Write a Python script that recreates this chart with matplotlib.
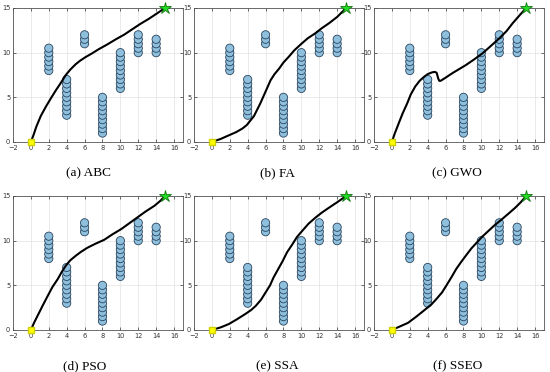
import matplotlib
matplotlib.use("Agg")
import matplotlib.pyplot as plt
from matplotlib.patches import Circle

# obstacle columns: x position and circle centre heights
obs_x = [2, 4, 6, 8, 10, 12, 14]
obs_y = [
    [8.0, 8.5, 9.0, 9.5, 10.0, 10.5],
    [3.0, 3.5, 4.0, 4.5, 5.0, 5.5, 6.0, 6.5, 7.0],
    [11.0, 11.5, 12.0],
    [1.0, 1.5, 2.0, 2.5, 3.0, 3.5, 4.0, 4.5, 5.0],
    [6.0, 6.5, 7.0, 7.5, 8.0, 8.5, 9.0, 9.5, 10.0],
    [10.0, 10.5, 11.0, 11.5, 12.0],
    [10.0, 10.5, 11.0, 11.5],
]
start = (0, 0)
goal = (15, 15)

captions = ["(a) ABC", "(b) FA", "(c) GWO", "(d) PSO", "(e) SSA", "(f) SSEO"]

abc_x = [0, 0.3, 0.6, 1.1, 1.7, 2.3, 2.8, 3.4, 3.9, 4.4, 5.0, 5.5, 6.1, 6.8, 7.6, 8.5, 9.5, 10.4, 11.3, 12.2, 13.2, 14.1, 15]
abc_y = [0, 0.8, 1.7, 2.9, 4.0, 5.0, 5.8, 6.7, 7.5, 8.1, 8.7, 9.1, 9.5, 9.9, 10.4, 10.9, 11.5, 12.0, 12.6, 13.2, 13.8, 14.4, 15]

fa_x = [0, 1.0, 1.9, 2.7, 3.4, 3.9, 4.3, 4.7, 5.05, 5.4, 5.8, 6.2, 6.55, 7.0, 7.5, 8.0, 8.6, 9.2, 9.9, 10.7, 11.6, 12.3, 13.1, 14.0, 15]
fa_y = [0, 0.35, 0.75, 1.1, 1.5, 1.9, 2.4, 2.9, 3.6, 4.3, 5.2, 6.1, 6.9, 7.6, 8.2, 8.9, 9.55, 10.25, 10.9, 11.6, 12.2, 12.75, 13.3, 14.0, 15]

gwo_x = [0, 0.3, 0.75, 1.2, 1.7, 2.1, 2.6, 3.1, 3.6, 4.0, 4.5, 4.8, 5.0, 5.1, 5.2, 5.3, 5.45, 6.0, 6.75, 7.5, 8.25, 9.2, 10.1, 11.0, 12.0, 12.8, 13.5, 14.2, 15]
gwo_y = [0, 0.9, 2.06, 3.2, 4.3, 5.3, 6.2, 6.85, 7.3, 7.6, 7.8, 7.85, 7.75, 7.4, 7.05, 6.85, 6.85, 7.2, 7.7, 8.15, 8.6, 9.25, 9.9, 10.7, 11.6, 12.4, 13.3, 14.1, 15]

pso_x = [0, 0.35, 0.75, 1.3, 1.87, 2.4, 3.0, 3.45, 3.9, 4.4, 5.0, 5.6, 6.3, 7.2, 8.2, 9.1, 10.1, 11.0, 11.9, 12.8, 13.8, 14.4, 15]
pso_y = [0, 0.8, 1.6, 2.7, 3.8, 4.8, 5.7, 6.5, 7.2, 7.8, 8.3, 8.75, 9.2, 9.65, 10.1, 10.7, 11.3, 11.95, 12.6, 13.25, 13.9, 14.4, 15]

ssa_x = [0, 1.0, 1.9, 2.8, 3.75, 4.4, 4.9, 5.5, 6.0, 6.5, 6.9, 7.4, 7.9, 8.4, 9.0, 9.5, 10.1, 10.8, 11.6, 12.3, 13.1, 14.0, 15]
ssa_y = [0, 0.3, 0.67, 1.2, 1.8, 2.25, 2.7, 3.4, 4.2, 5.0, 5.9, 6.8, 7.7, 8.7, 9.6, 10.4, 11.1, 11.9, 12.6, 13.15, 13.7, 14.3, 15]

sseo_x = [0, 0.9, 1.8, 2.8, 3.85, 4.45, 5.0, 5.6, 6.1, 6.65, 7.2, 7.8, 8.4, 8.9, 9.5, 10.1, 10.8, 11.5, 12.3, 13.0, 13.8, 14.4, 15]
sseo_y = [0, 0.4, 0.8, 1.55, 2.4, 2.9, 3.5, 4.2, 5.0, 5.9, 6.85, 7.7, 8.5, 9.15, 9.8, 10.45, 11.1, 11.75, 12.4, 13.0, 13.7, 14.3, 15]

paths = [(abc_x, abc_y), (fa_x, fa_y), (gwo_x, gwo_y),
         (pso_x, pso_y), (ssa_x, ssa_y), (sseo_x, sseo_y)]

fig = plt.figure(figsize=(5.5, 3.72), dpi=100)

lefts = [13 / 550, 194 / 550, 374 / 550]
bottoms = [230 / 372, 42 / 372]
w, h = 170 / 550, 134 / 372
cap_x = [[88, 277, 457], [85, 277, 458]]
cap_y = [173, 366]

for i, (px, py) in enumerate(paths):
    r, c = divmod(i, 3)
    ax = fig.add_axes([lefts[c], bottoms[r], w, h])
    for ox, ys in zip(obs_x, obs_y):
        for oy in ys:
            ax.add_patch(Circle((ox, oy), 0.46, facecolor="#8ec0dd",
                                edgecolor="#2a445e", linewidth=0.6, zorder=2))
    ax.plot(px, py, color="black", linewidth=1.5, zorder=3)
    ax.plot(*start, marker="s", color="#ffff00", markeredgecolor="#d0d000",
            markersize=5, zorder=4, clip_on=False)
    ax.plot(*goal, marker="*", color="#22dd22", markeredgecolor="#117711",
            markersize=9, markeredgewidth=0.6, zorder=4, clip_on=False)
    ax.set_xlim(-2, 17)
    ax.set_ylim(0, 15)
    ax.set_xticks(range(-2, 17, 2))
    ax.set_yticks([0, 5, 10, 15])
    ax.grid(True, color="#e6e6e6", linewidth=0.6)
    ax.set_axisbelow(True)
    ax.tick_params(direction="in", length=2, width=0.5, labelsize=4.8,
                   colors="#333333", pad=2, top=True, right=True)
    for s in ax.spines.values():
        s.set_color("#555555")
        s.set_linewidth(0.6)
    fig.text(cap_x[r][c] / 550, 1 - cap_y[r] / 372, captions[i],
             ha="center", va="center", fontsize=9.5, family="Liberation Serif")

fig.savefig("out.png", dpi=100)
